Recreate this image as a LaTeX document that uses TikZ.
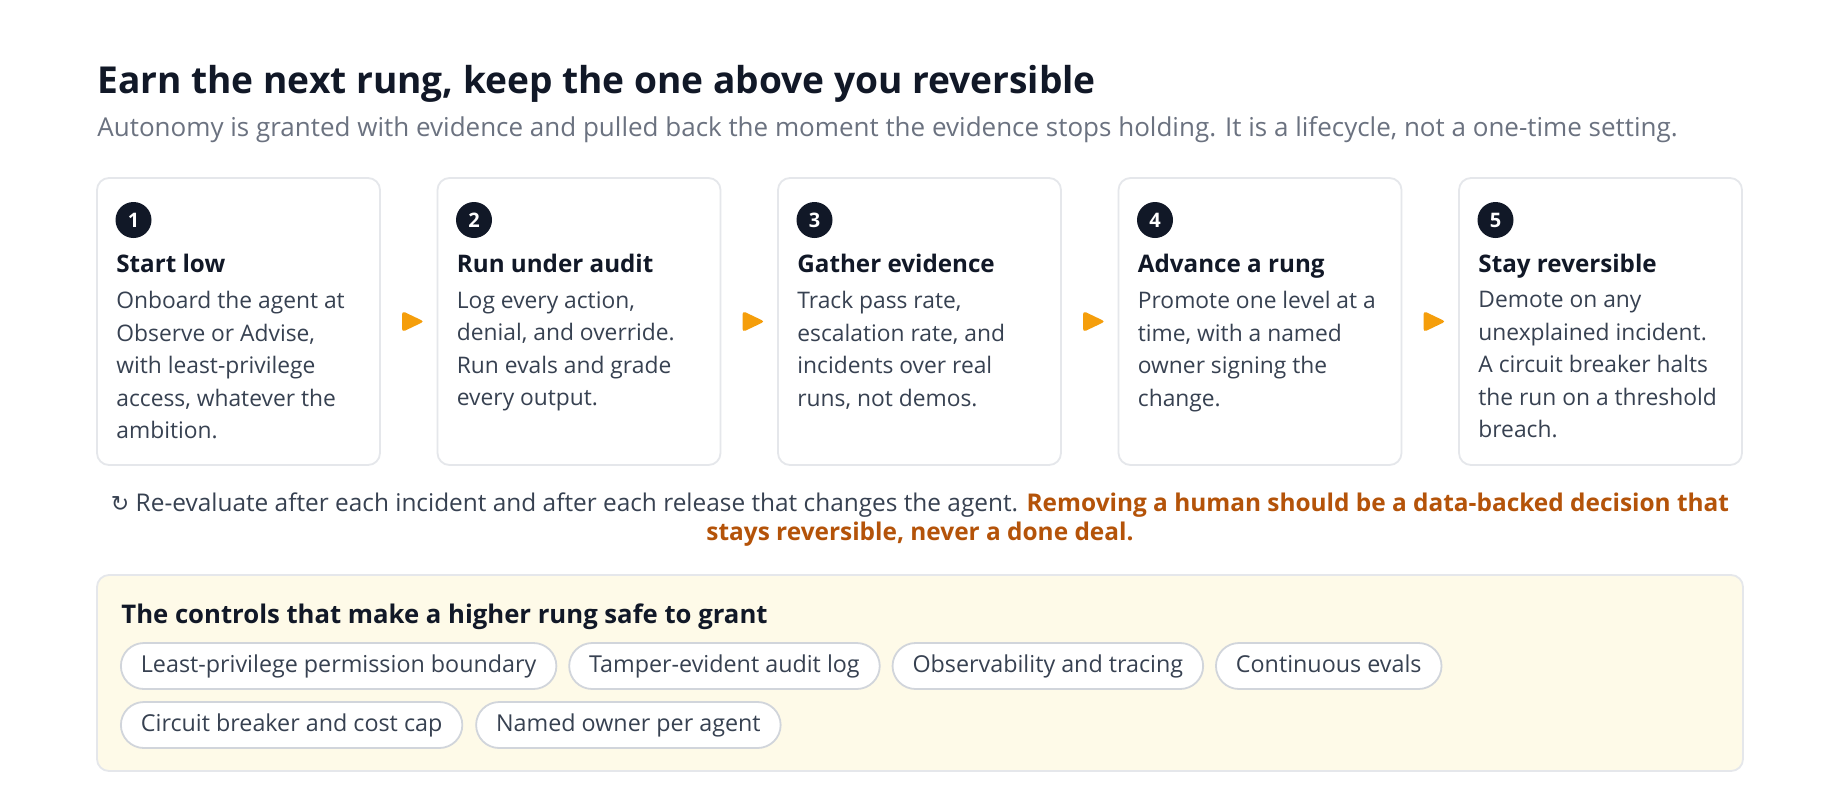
\documentclass[tikz,border=0pt]{standalone}
\usepackage{fontspec}
\setmainfont{Open Sans}
\newfontfamily\symfont{DejaVu Sans}
\usetikzlibrary{positioning,shapes.geometric}
\definecolor{ink}{HTML}{111827}
\definecolor{slate}{HTML}{374151}
\definecolor{muted}{HTML}{6B7280}
\definecolor{edge}{HTML}{E5E7EB}
\definecolor{chipedge}{HTML}{D1D5DB}
\definecolor{amber}{HTML}{F59E0B}
\definecolor{rust}{HTML}{B45309}
\definecolor{cream}{HTML}{FEFAE8}

\tikzset{
  card/.style={draw=edge,line width=0.9pt,rounded corners=6pt,fill=white,
    minimum width=141.5pt,minimum height=143.5pt,inner sep=0pt},
  badge/.style={circle,fill=ink,text=white,inner sep=0pt,minimum size=18pt,
    font=\bfseries\fontsize{10}{10}\selectfont},
  head/.style={anchor=base west,inner sep=0pt,text=ink,
    font=\bfseries\fontsize{12.1}{14}\selectfont},
  body/.style={anchor=north west,inner sep=0pt,align=left,text=slate,
    font=\fontsize{11.4}{16.25}\selectfont,execute at begin node=\strut},
  steparrow/.style={isosceles triangle,isosceles triangle stretches,fill=amber,
    minimum width=10.5pt,minimum height=11pt,inner sep=0pt,rounded corners=1.5pt},
  panel/.style={draw=edge,line width=0.9pt,fill=cream,rounded corners=6pt,
    minimum width=823pt,minimum height=98pt,inner sep=0pt},
  chip/.style={draw=chipedge,line width=0.9pt,fill=white,rounded corners=11.5pt,
    minimum height=23pt,inner xsep=10pt,inner ysep=0pt,text=slate,
    text height=0.8em,text depth=0.2em,font=\fontsize{11.65}{13}\selectfont}
}

\begin{document}
\begin{tikzpicture}[x=0.5pt,y=-0.5pt]
\useasboundingbox (0,0) rectangle (1840,788);
\fill[white] (0,0) rectangle (1840,788);

% heading
\node[anchor=base west,inner sep=0pt,text=ink,font=\bfseries\fontsize{18.55}{22}\selectfont] (title) at (97,93)
  {Earn the next rung, keep the one above you reversible};
\node[anchor=base west,inner sep=0pt,text=muted,font=\fontsize{13}{15}\selectfont] (subtitle) at (97,136)
  {Autonomy is granted with evidence and pulled back the moment the evidence stops holding. It is a lifecycle, not a one-time setting.};

% the five rungs
\foreach \n/\head/\body in {
  1/Start low/{Onboard the agent at\\Observe or Advise,\\with least-privilege\\access, whatever the\\ambition.},
  2/Run under audit/{Log every action,\\denial, and override.\\Run evals and grade\\every output.},
  3/Gather evidence/{Track pass rate,\\escalation rate, and\\incidents over real\\runs, not demos.},
  4/Advance a rung/{Promote one level at a\\time, with a named\\owner signing the\\change.},
  5/Stay reversible/{Demote on any\\unexplained incident.\\A circuit breaker halts\\the run on a threshold\\breach.}}
{
  \pgfmathsetmacro\cx{97+(\n-1)*340.5}
  \node[card] (card\n) at (\cx+141.5,321.5) {};
  \node[badge] (badge\n) at (\cx+36.5,220) {\n};
  \node[head] (head\n) at (\cx+19,272) {\head};
  \node[body] (body\n) at (\cx+19,291) {\body};
}
\foreach \a/\b in {1/2,2/3,3/4,4/5}
  \path (card\a.east) -- node[steparrow] (arrow\a) {} (card\b.west);

% re-evaluation note
\node[anchor=north,align=center,inner sep=0pt,text=slate,font=\fontsize{12.2}{14.6}\selectfont,
  execute at begin node=\strut] (note) at (920,492.5)
  {{\symfont\fontsize{11}{14.6}\selectfont ↻} Re-evaluate after each incident and after each release that changes the agent. \textcolor{rust}{\bfseries Removing a human should be a data-backed decision that}\\
   \textcolor{rust}{\bfseries stays reversible, never a done deal.}};

% controls panel
\node[panel] (panel) at (920,673) {};
\node[anchor=base west,inner sep=0pt,text=ink,font=\bfseries\fontsize{12.85}{15}\selectfont] (ptitle) at (121,623)
  {The controls that make a higher rung safe to grant};
\node[chip,anchor=west] (chip1) at (120,666) {Least-privilege permission boundary};
\node[chip,right=5.5pt of chip1] (chip2) {Tamper-evident audit log};
\node[chip,right=5.5pt of chip2] (chip3) {Observability and tracing};
\node[chip,right=5.5pt of chip3] (chip4) {Continuous evals};
\node[chip,anchor=west] (chip5) at (120,725) {Circuit breaker and cost cap};
\node[chip,right=6pt of chip5] (chip6) {Named owner per agent};
\end{tikzpicture}
\end{document}
